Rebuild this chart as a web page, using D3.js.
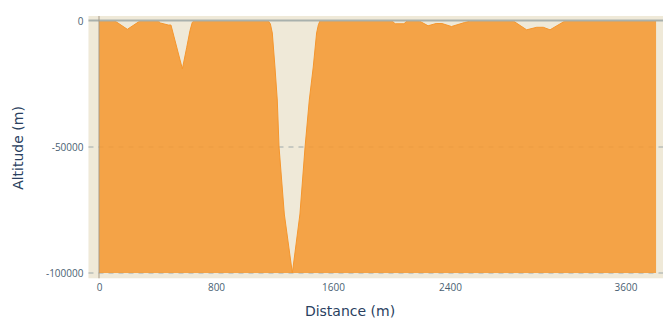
<!DOCTYPE html>
<html>
<head>
<meta charset="utf-8">
<script src="https://cdn.jsdelivr.net/npm/d3@7"></script>
<style>
  body { margin: 0; background: #fff; }
  svg { display: block; }
  .tick text { font-family: "Open Sans", "DejaVu Sans", sans-serif; font-size: 10px; fill: #4a5f72; }
  .axis-title { font-family: "DejaVu Sans", sans-serif; font-size: 14px; fill: #2a3f5f; }
</style>
</head>
<body>
<svg id="chart" width="663" height="320"></svg>
<script>
// Elevation profile: distance along the track (m) and altitude (m)
const distance = [
  0, 109, 194, 280, 406, 420, 474, 492, 570, 600, 622, 638, 650,
  1158, 1172, 1185, 1203, 1219, 1231, 1267, 1322, 1374, 1409, 1438, 1465, 1488, 1500, 1511,
  2004, 2025, 2085, 2106, 2190, 2250, 2305, 2345, 2410, 2500, 2540,
  2833, 2924, 2993, 3038, 3084, 3186, 3809
];
const altitude = [
  0, 0, -3300, 0, 0, -800, -1600, -1600, -19000, -10400, -3900, -500, 0,
  0, -1200, -4760, -18250, -31350, -50000, -76600, -100000, -76600, -50000, -31350, -18250, -4760, -1500, 0,
  0, -1100, -1100, 0, 0, -1900, -1000, -1000, -2200, -600, 0,
  0, -3500, -2500, -2500, -3500, 0, 0
];
const xTicks = [0, 800, 1600, 2400, 3600];
const yTicks = [0, -50000, -100000];
const xTitle = "Distance (m)";
const yTitle = "Altitude (m)";

const points = distance.map((d, i) => ({ d, a: altitude[i] }));

const W = 663, H = 320;
const svg = d3.select("#chart");

const x = d3.scaleLinear().domain([0, 3600]).range([99, 625.5]);
const y = d3.scaleLinear().domain([-100000, 0]).range([273, 21]);

// plot panel bounds (slightly padded beyond the data range)
const panelL = x(-72), panelR = W;
const panelT = y(2000), panelB = y(-102100);

svg.append("rect")
  .attr("x", panelL).attr("y", panelT)
  .attr("width", panelR - panelL).attr("height", panelB - panelT)
  .attr("fill", "#efe9d8");

// dashed horizontal grid lines
svg.append("g")
  .selectAll("line")
  .data(yTicks.filter(v => v !== 0))
  .join("line")
  .attr("x1", panelL).attr("x2", panelR)
  .attr("y1", d => y(d)).attr("y2", d => y(d))
  .attr("stroke", "#9fa9aa")
  .attr("stroke-width", 1)
  .attr("stroke-dasharray", "5,5");

// filled profile down to the lowest altitude
const area = d3.area()
  .x(p => x(p.d))
  .y0(y(-100000))
  .y1(p => y(p.a));

svg.append("path")
  .datum(points)
  .attr("d", area)
  .attr("fill", "rgb(245,152,50)")
  .attr("fill-opacity", 0.88);

const line = d3.line().x(p => x(p.d)).y(p => y(p.a));
svg.append("path")
  .datum(points)
  .attr("d", line)
  .attr("fill", "none")
  .attr("stroke", "rgb(245,150,45)")
  .attr("stroke-width", 1);

// zero lines
svg.append("line")
  .attr("x1", panelL).attr("x2", panelR)
  .attr("y1", y(0) - 0.5).attr("y2", y(0) - 0.5)
  .attr("stroke", "#a9b1ad").attr("stroke-width", 2);
svg.append("line")
  .attr("x1", x(0)).attr("x2", x(0))
  .attr("y1", panelT).attr("y2", panelB)
  .attr("stroke", "#a59a86").attr("stroke-width", 1.2).attr("stroke-opacity", 0.8);

// axes
const xAxis = svg.append("g")
  .attr("transform", `translate(0,${panelB})`)
  .call(d3.axisBottom(x).tickValues(xTicks).tickSize(0).tickPadding(6).tickFormat(d => String(d)));
xAxis.select(".domain").remove();

const yAxis = svg.append("g")
  .attr("transform", `translate(${panelL},0)`)
  .call(d3.axisLeft(y).tickValues(yTicks).tickSize(0).tickPadding(5).tickFormat(d => String(d)));
yAxis.select(".domain").remove();

svg.append("text")
  .attr("class", "axis-title")
  .attr("x", 350).attr("y", 316)
  .attr("text-anchor", "middle")
  .text(xTitle);

svg.append("text")
  .attr("class", "axis-title")
  .attr("transform", `translate(23,${148}) rotate(-90)`)
  .attr("text-anchor", "middle")
  .text(yTitle);
</script>
</body>
</html>
